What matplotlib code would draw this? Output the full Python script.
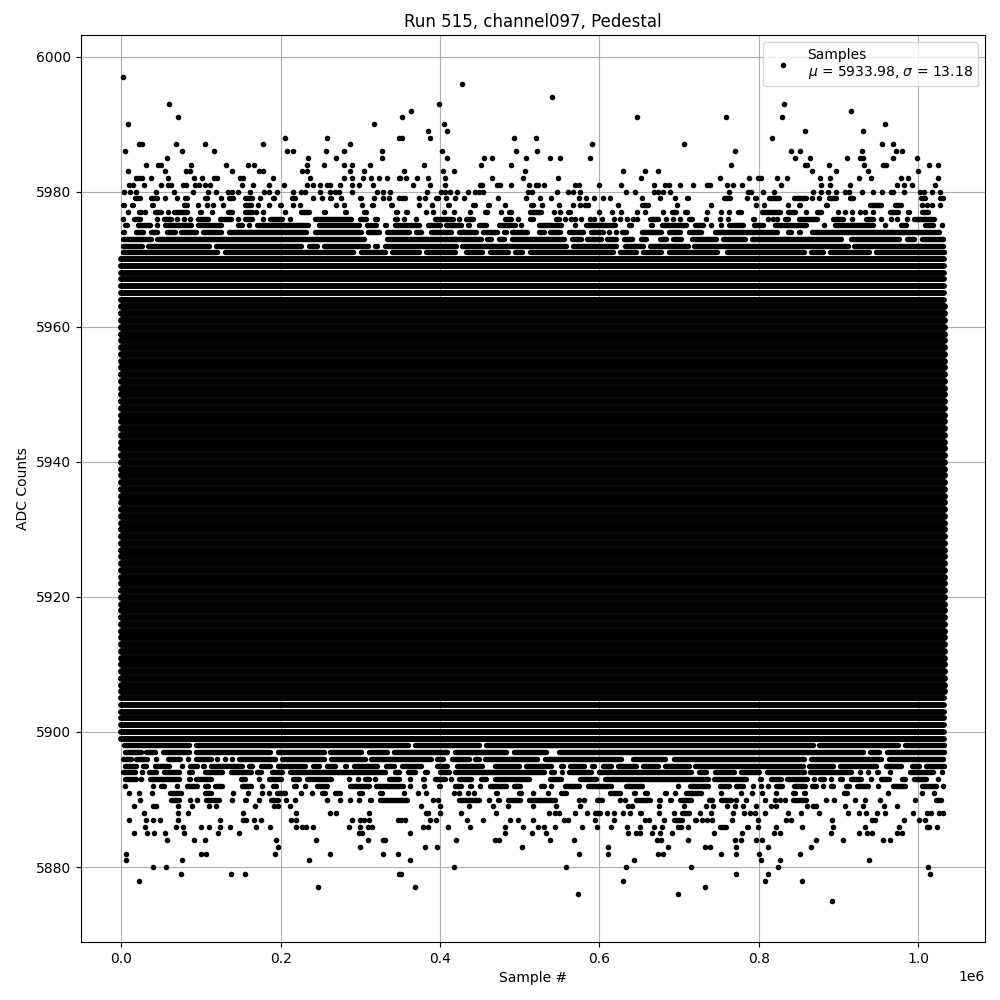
import matplotlib
matplotlib.use("Agg")
import matplotlib.pyplot as plt

# x values are in thousands of samples; keys are ADC levels.
# A number is one sample; a pair is a stretch of overlapping samples on that level.
upper_rows = {
 5997: [2.0],
 5996: [427.6],
 5994: [540.6],
 5993: [59.7, 398.8, 831.8],
 5992: [363.6, 915.9],
 5991: [71, 352.3, 647.3, 759, 829.3],
 5990: [8.3, 316.8, 405, 958.6],
 5989: [385, 408.8, 858.2, 931],
 5988: [205.6, 257.9, 348, 352.3, 387.5, 493, 520.5, 816.7],
 5987: [22, 26, 68.5, 104.9, 177.6, 286.7, 590.8, 706.3, 954.8, 968.6],
 5986: [4.6, 76, 116, 207.7, 215, 256.6, 280, 326.9, 402.5, 495.4, 521.8, 770.3, 840.6, 851.9, 929.7, 972.4, 979.9],
 5985: [57, 234, 270, 326.9, 408.8, 455, 465.3, 508, 538, 550.6, 588.3, 845.6, 864.4, 910.9, 927.2, 931, 968.6, 998.7],
 5984: [30.9, 46, 49.7, 88, 132, 158.8, 166, 232.8, 255, 280, 290, 311.8, 380, 451.5, 489, 765.3, 858.2, 860.7, 888.3, 932.2, 956, 959.8, 1013.8, 1025],
 5983: [8.3, 54.7, 81, 86, 138.7, 172.6, 177.6, 226.5, 232.8, 287, 304, 354.8, 403.8, 417.6, 506.7, 629.7, 657.3, 673.7, 867, 897, 937.2, 1000],
 5982: [18.4, 22, 26, 37, 58.5, 91, 101, 116, 120, 148.8, 152.5, 190, 236.6, 280, 290, 303, 313, 324, 333, 348, 350, 357.4, 371, 385, 406.3, 465.3, 504.2, 548, 652.3, 751.5, 787.9, 799.2, 802.9, 823, 835.6, 877, 889.5, 926, 941, 978.7, 987.5, 1025],
 5981: [9.6, 14.6, 28, 49.7, 58.5, 62, 77, 81, 92, 98, 104.9, 111, 152, 165, 185, 204, 232.8, 241, 250, 257.9, 261.6, 274, 290, 298, 315.6, 366, 387.5, 406.3, 450, 452.7, 471.6, 475.3, 489, 511.7, 520.5, 523, 530.6, 569.5, 574.5, 599.6, 627, 668.6, 682.4, 687.5, 701.3, 717.6, 735, 739, 760.3, 767.8, 779, 828, 878.2, 889.5, 914.6, 973.6, 982.4, 992.5, 1021.3],
 5980: [3, 10.8, 18.4, 43, 66, 89.8, 108.6, 118.7, 133.7, 138.7, 146, 161, 178.9, 185, 196, 215, 225, 230, 249, 261.6, 268, 273, 289, 320.6, 329, 337, 383.7, 401.3, 406.3, 412.6, 421.4, 435, 444, 449, 454, 510.5, 515.5, 546.9, 560.7, 567, 575.8, 633.5, 644.8, 668.6, 673.7, 680, 688.7, 762.8, 786.6, 790.4, 805.4, 819.3, 868.2, 878.2, 887, 897, 908.4, 913.4, 929.7, 943.5, 954.8, 966, 968.6, 982.4, 1002.5, 1007.6, 1017.6, 1027.6],
 5979: [(14.6, 26), (34.7, 48), 54.8, 69.9, (77.4, 84.9), (102.5, 110), 125, (132.6, 142.7), (152.7, 166.5), 174, (187.9, 194.5), (199, 204.2), (211.7, 220.5), 240.6, 251.9, (259.4, 265.7), 275.7, (297, 303.3), 317.1, 328.4, 336, 348.5, (349.4, 358.6), 373.7, 381.2, (392.5, 400), 407.6, 418.9, 430.2, 472.8, 508, 525.5, 539.4, (546.9, 551.9), 574.5, 583.3, 593.3, 604.6, 613.4, 653.6, 676.2, 695, (707.6, 712.6), (754, 766.5), 785.4, (792.9, 799.2), (810.5, 828), (841.8, 862), 867, 875.7, (885.8, 899.6), (912, 920.9), (1001.2, 1011.3), (1025, 1034)],
 5978: [(0, 4), (11.3, 17.2), (35.6, 42.3), (76.1, 84.9), 96.2, 107.5, 115, 127.6, (152.7, 165.3), 171.5, 185.4, (196.6, 202.9), 215.5, 224.3, (259.4, 263.2), 269.4, 279.5, 302, (312.1, 318.4), (336, 342.2), 373.7, 390, (407.6, 413.8), (439, 446.5), (457.8, 464), (469, 474), 481.6, (511.7, 519.3), 528, 549.4, 567, 575.8, 582, 585.8, (610.9, 614.7), 623.5, (651, 663.6), 697.5, 740.2, 796.7, 806.7, 836.8, (848.1, 854.4), (882, 888.3), (937.2, 956), (968.6, 981.2), (991.2, 996.2), 1005, 1011.3, 1017.6, 1027.6],
 5977: [8.4, (19.7, 27.2), 29.7, (39.7, 52.3), 58.6, (63.6, 85.8), (96.2, 102.5), 113.8, (131.4, 141.4), (152.7, 166.5), 169, 177.8, 205.4, (223, 238), (251.9, 258.1), (278.2, 284.5), (302, 309.6), (328.4, 331), (342.2, 349.4), (354.8, 361), 382.5, 391.2, 405, 417.6, 437.7, (454, 461.5), 476.6, (484, 491.7), (510.5, 529.3), 543, 550.6, (558.2, 565.7), (573, 578.3), 599.6, 615.9, 627.2, 647.3, 657.3, 680, (688.7, 698.8), (705, 712.6), 735, 752.7, 762.8, (771.6, 780.3), (801.7, 829.3), (834.3, 848), 859.4, (870.7, 880.8), 899.6, 908.4, 917.2, 927.2, 933.5, 943.5, (962.3, 977.9), (984.9, 991.2), (1001.3, 1014.6)],
 5976: [2, (13.4, 26), 44.8, (51, 64.8), 69.9, 78.7, 86.2, (93.7, 112), (121.3, 140.2), 146.4, (152.7, 166.5), 177.8, (184.1, 204.2), 211.7, (220.5, 225.5), (240.6, 290.8), (297, 309.6), (315.9, 323.4), (328.4, 332.6), (341, 349.4), 354.8, 370, (391.2, 418.9), 423.9, (430, 444), (449, 454), (466.6, 471.6), (479, 491.7), 498, (510.5, 519.3), (543, 551.9), 556.9, 564.5, 569.5, 577, 588.3, 593.3, 603.4, 618.4, 626, 634.7, 642.3, 647.3, (661, 676.2), 683.7, 692.5, 701.3, (710, 718.9), 733.9, 751, 761.5, (790.4, 796.7), 811.7, 818, 823, (830.6, 839.3), (848, 875.7), (890.8, 908.4), 917.2, (932.2, 946), 953.6, 966, 973.6, 986.2, (991.2, 1023)],
 5975: [(2, 9.6), (18.4, 38.5), 44.8, (52.3, 89.9), (94.1, 127.6), (143.9, 154), 160.2, (167.8, 237.2), (245.6, 300.8), (305.8, 322.2), (328.4, 334.7), (341, 376.2), (382.5, 402.5), (405, 428.9), (432.7, 439), (446.5, 460.3), (471.6, 496.7), 501.7, (510.5, 515.5), (521.8, 554.4), (560.7, 563.2), 569.5, (580.8, 622.2), (634.7, 642.3), (662.4, 668.6), (676, 711.3), (717.6, 732.6), 740.2, 752.7, (760.3, 782.9), (791.6, 808), (818, 862), 882, (893.3, 946), 958.6, (974.9, 987.5), (1005, 1021.3), 1030],
 5974: [(0, 6.3), (15.9, 29.7), (34.7, 48), (54.8, 69.9), (72.4, 96.2), (99.2, 127.6), (131.8, 234.3), (240.6, 303.3), (306.3, 326.4), (330.5, 363.6), (367.4, 378.7), (386.2, 416.3), (421.4, 447.7), (451.5, 474), (477.9, 485.4), (487.9, 511.7), (521.8, 533), (535.6, 553.2), (559.4, 582), (587, 607.1), 612, 621, (626, 636), (651, 680), (685, 703.8), (709.2, 730), (742.7, 825.5), (834.3, 843), (848, 854.4), (864.4, 1029.3)],
 5973: [(0, 39.7), (42.3, 307.5), (317, 322.2), (330.5, 454), (456.5, 466.6), (471.6, 482.9), (487.9, 558.6), (563, 579.5), (582, 604.6), (607, 623.5), (628.5, 643.5), (649.8, 661), (673.7, 686.2), (690, 705), (713.4, 749), (751.9, 785.4), (788.7, 905.9), (913.4, 978.7), (983.3, 997.9), (1001.3, 1034)],
 5972: [(0, 29.3), (31.4, 113), (116.3, 228.9), (232.2, 249), (251, 312.5), (315, 323.4), (328.4, 422.6), (425.1, 560.7), (564.5, 623.5), (629.7, 657), (661, 713.4), (715.5, 914.2), (916.3, 1034)],
 5971: [(0, 123.4), (127.6, 294.1), (297.5, 333.5), (336.8, 376.6), (380, 421.4), (430, 456), (460.3, 487.5), (491.7, 505), (510.5, 619.3), (623.5, 648.6), (651.5, 680), (684, 750.2), (757.3, 859.8), (862, 882.9), (886.2, 941.4), (944.3, 1035)],
}

lower_rows = {
 5875: [892],
 5876: [573.2, 698.8],
 5877: [246.9, 368.6, 732.6],
 5878: [22.2, 629.7, 808, 854.4],
 5879: [74.9, 137.6, 155.2, 348.5, 351, 771.6, 811.7, 1015],
 5880: [39.7, 56, 417.6, 558.2, 633.5, 715, 824.3, 1012.6],
 5881: [5.9, 76.1, 235.5, 362.4, 643.5, 803, 826.8, 938.5],
 5882: [5.9, 100, 106.3, 192.9, 261.9, 328.4, 347.3, 574.5, 610.9, 673.7, 680, 752.7, 771.6, 800.4, 851.9],
 5883: [196.6, 299.6, 381.2, 396.3, 503, 610.9, 686.2, 733, 739, 771.6, 811.7, 865.7],
 5884: [57.3, 91.2, 105, 194.1, 244.3, 309.6, 328.4, 331, 420, 469, 474, 538, 568.2, 672.4, 677.4, 711.3, 770.3, 777.8, 796.7, 804, 872, 905.9, 956, 964.9],
 5885: [15.9, 32.2, 41, 54.8, 78.7, 121.3, 147.7, 298.3, 302, 362.4, 481.6, 515.5, 533, 636, 646, 651, 666, 676, 691.2, 744, 779, 819.3, 826.8, 890.8, 926, 936, 942.3, 973.6, 980],
 5886: [29.7, 68.6, 77.4, 100, 110, 123.8, 136.4, 169, 186.6, 219.2, 226.8, 231.8, 240.6, 285.8, 299.6, 309.6, 314.6, 378.7, 385, 410, 437.7, 481.6, 504.2, 523, 530.6, 544.4, 578.3, 597, 614.7, 634.7, 651, 668.6, 678.7, 698.8, 702.5, 711.3, (749, 761.5), (782.9, 787.9), 799.2, 821.8, 854.4, 893.3, 933.5, 976, 1011.3, 1013.8, 1023.4],
 5887: [9.6, 31, 39.7, 48.5, 71.1, 123.8, 152.7, 156.5, 166.5, 175.3, 213, 219.2, 289.5, 299.6, 304.6, 310.9, 347.3, 351, 356, 387.5, 395, 433.9, 454, 487.9, 497.9, 516.8, 555.7, 560.7, 594.6, 618.4, 657.3, 662.4, 681.2, (691.2, 706.3), (717.6, 722.6), 729, 735, 741.4, 766.5, 799.2, 834.3, 840.6, 892, 942.3, 946, 982.4, 1001.3, 1008.8],
 5888: [28.4, 71.1, 83.7, 152.7, 219.2, 261.9, 269.4, 310.9, 382.5, 385, 400, 426.4, 470.3, (494.2, 499.2), 536.8, 544.4, 549.4, 569.5, 584.5, (592, 603.4), 609.6, 618.4, 629.7, 638.5, (648.6, 653.6), 674.9, 693.7, (701.3, 715.5), 726.4, 740.2, 767.8, 781.6, 789, 795.4, 808, 836.8, 853.1, 875.7, 912, 926, 934.7, 948.5, 958.6, 993.7, 1011.3, 1016.3, 1026.4, 1031.4],
 5889: [15.9, 39.7, 43.5, 71.1, 88.7, 110, 118.8, 167.8, 191.6, 196.6, 211.7, 376.2, 400, 436.4, 466.6, 485.4, 516.8, 545.6, (563.2, 565.7), 575.8, (609.6, 613.4), 636, 641, (666, 671), 674.9, 706.3, 733.9, 742.7, 760.3, 770.3, 780.3, 796.7, 815.5, 821.8, 860.7, 868.2, 872, 908.4, 931, 957.3, 973.6],
 5890: [23.4, (46, 49.8), (59.8, 74.9), 86.2, 95, (103.8, 125), 138.9, (152.7, 159), 172.8, (185.4, 199.2), 206.7, 218, (229.3, 233), 258.1, 274.5, 287, 298.3, (309.6, 315.9), (322.2, 361), 391.2, 397.5, (421.4, 451.5), 461.5, (470.3, 476.6), (482.9, 503), (509.2, 546.9), (560.7, 565.7), 574.5, 580.8, (594.6, 605.9), 626, 632, (643.5, 666), (672.4, 678.7), (686.2, 692.5), (698.8, 717.6), (735, 744), (750.2, 767.8), 771.6, 784, 808, 820.5, 826.8, 833, (840.6, 861.9), 884.5, 894.6, (907, 912), 921, 933.5, 952.3, 996.2, (1020, 1031.4)],
 5891: [9.6, 22.2, 38.5, (58.6, 77.4), (102.5, 115), 140, 159, 176.6, 185.4, (192.9, 208), 225.5, 239.3, (249.4, 258), (265.7, 277), (295.8, 304.6), (322.2, 329.7), 354.8, 372.4, 382.5, 417.6, 423.9, 435, 442.7, (467.8, 474), (496.7, 504.2), 516.8, 535.6, (549.4, 560.7), (563.2, 567), (610.9, 628.5), (641, 647.3), (654.8, 662.4), (668.6, 672.4), (680, 685), 695, (706.3, 730), 752.7, 777.8, 791.6, 804.2, 821.8, (840.6, 848.1), (854.4, 858.2), (903.4, 913.4), (949.8, 953.6), 962.4, 1005, 1020],
 5892: [4.6, 39.7, (47.3, 56), 69.9, (79.9, 97.5), (102.5, 111.3), (115, 128.9), (149, 165.3), 176.6, (187.9, 196.6), (214.2, 221.8), 230.5, (243, 260.7), (272.8, 278.2), (284.5, 313.8), (317.1, 355.7), 362.4, 380, (396.3, 402.5), (416.3, 428.9), (435, 441.4), 450, (460.3, 485.4), (490.4, 503), (524.3, 533), 539.3, (554.4, 577), (583.3, 617.2), (622.2, 626), (631, 656), 698.8, (711.3, 738.5), (749, 765.7), (769, 782.9), 792.9, 802.9, 811.7, (819.3, 831.8), (841.8, 860.7), (864.4, 874.5), 880.8, (888.3, 895.8), (907.1, 915.9), (919.7, 939.8), 949.8, (966.1, 986.2), (1001.3, 1025), 1031.4],
 5893: [(2, 20.9), 24.7, (33.5, 75.3), (82.4, 88.7), (91.2, 115), (147.7, 157.7), 172.8, (182.8, 202.9), (213, 225.5), (230.5, 265.7), 285.8, 297, (303.3, 313.8), 318.4, (333.5, 351), 362.4, (376, 382.5), (391.2, 408.8), 413.8, (421.4, 441.4), (449, 460.3), (466.6, 514.7), (535.6, 554.4), (573.2, 598.4), (604.6, 738.5), (741, 786.6), (799.2, 805.4), (813, 830.5), (833, 863.2), 869.5, (874.5, 884.5), 890.8, (899.6, 907.1), (913.4, 931), 941, (949.8, 966.1), (976.2, 986.2), (991.2, 1012.6), 1025],
 5894: [(0, 19.7), 25.9, (32.2, 46), (51, 75.3), (82.4, 91.2), (102.5, 128.9), (135, 165.3), (167.8, 177.8), (186.6, 204.2), (209.2, 333.5), (341, 351), (357.4, 371), (378.7, 387), (397.5, 414.3), (416.3, 533.5), (536.8, 546), 553.2, (559.4, 592), (597, 717.6), (722.6, 736.4), (742.7, 772), (775.3, 803.4), (807.5, 859.8), (861.9, 918.4), 927.2, 937.2, (946, 952.3), 964.9, (986.2, 1021.3), 1030],
 5895: [(2, 20.9), (24.7, 33.5), (39.7, 62.8), 76.1, (83.7, 97.5), (100, 106.7), (110, 154.8), (157.7, 166.5), (172.8, 189.1), (194.1, 233), (238, 250.6), (255.6, 270.7), (278.2, 284.5), (289.5, 324.3), (329.7, 345.2), (349.4, 378.7), (393.7, 411.3), (418.9, 456), (459, 462.4), (466.6, 502), (505, 541.9), (549.4, 557.3), (560.7, 583.7), (587.9, 596.3), (602, 617.2), (620.5, 648.6), (652.3, 675.7), (680, 715.5), (716.7, 857.7), (860.7, 895.4), (899.6, 949.8), (957.3, 981.2), (988.7, 1004.2), (1007.5, 1035)],
 5896: [(0, 14.6), (15.9, 34.7), 43.5, (56, 76.1), 83.7, (91.2, 115), 120, 130, 138.9, (145.2, 195.4), (199.2, 257.3), (260.7, 308.4), (310.9, 391.2), (393.7, 406.7), (412.6, 439.4), (441.4, 451.9), (454, 525), (529.3, 629.7), (638.9, 685), (690.4, 859.8), (863, 956), (960.3, 1034)],
 5897: [(2, 27.2), (28.4, 44.8), (49.8, 87.9), (91.2, 189.1), (194.1, 257.3), (259.4, 303.3), (307.5, 336.8), (340, 412), (415.5, 485.4), (489.6, 535.6), (546, 933), (936.4, 954), (958.2, 1035)],
 5898: [(0.8, 87.9), (91.2, 362), (366, 451.9), (454.8, 870.3), (872.4, 977), (980.3, 1035)],
}

# Levels occupied along the whole run
full_row_low, full_row_high = 5899, 5970
solid_core_low, solid_core_high = 5906, 5963
last_sample = 1032.5

title = "Run 515, channel097, Pedestal"
legend_label = "Samples\n$\\mu$ = 5933.98, $\\sigma$ = 13.18"

fig, ax = plt.subplots(figsize=(10, 10), dpi=100)
fig.subplots_adjust(left=0.0805, right=0.985, top=0.965, bottom=0.058)

cap_trim = 2.8  # round caps already add this much at each end of a stretch
point_x, point_y, seg_y, seg_start, seg_end = [], [], [], [], []
for rows in (upper_rows, lower_rows):
    for level, items in rows.items():
        for item in items:
            if isinstance(item, tuple):
                start = item[0] + cap_trim
                end = max(item[1] - cap_trim, start + 0.1)
                seg_y.append(level)
                seg_start.append(start * 1e3)
                seg_end.append(end * 1e3)
            else:
                point_y.append(level)
                point_x.append(item * 1e3)

ax.plot(point_x, point_y, ".", color="black", label=legend_label)
ax.hlines(seg_y, seg_start, seg_end, color="black", linewidth=3.9, capstyle="round")

full_levels = list(range(full_row_low, full_row_high + 1))
outer = [v for v in full_levels if not solid_core_low <= v <= solid_core_high]
inner = [v for v in full_levels if solid_core_low <= v <= solid_core_high]
ax.hlines(outer, 0, last_sample * 1e3, color="black", linewidth=4.25, capstyle="round")
ax.hlines(inner, 0, last_sample * 1e3, color="black", linewidth=5.0, capstyle="round")

ax.set_xlim(-51100, 1083700)
ax.set_ylim(5868.9, 6003.2)
ax.set_title(title)
ax.set_xlabel("Sample #")
ax.set_ylabel("ADC Counts")
ax.grid(True)
ax.legend(loc="upper right")
fig.savefig("out.png", dpi=100)
